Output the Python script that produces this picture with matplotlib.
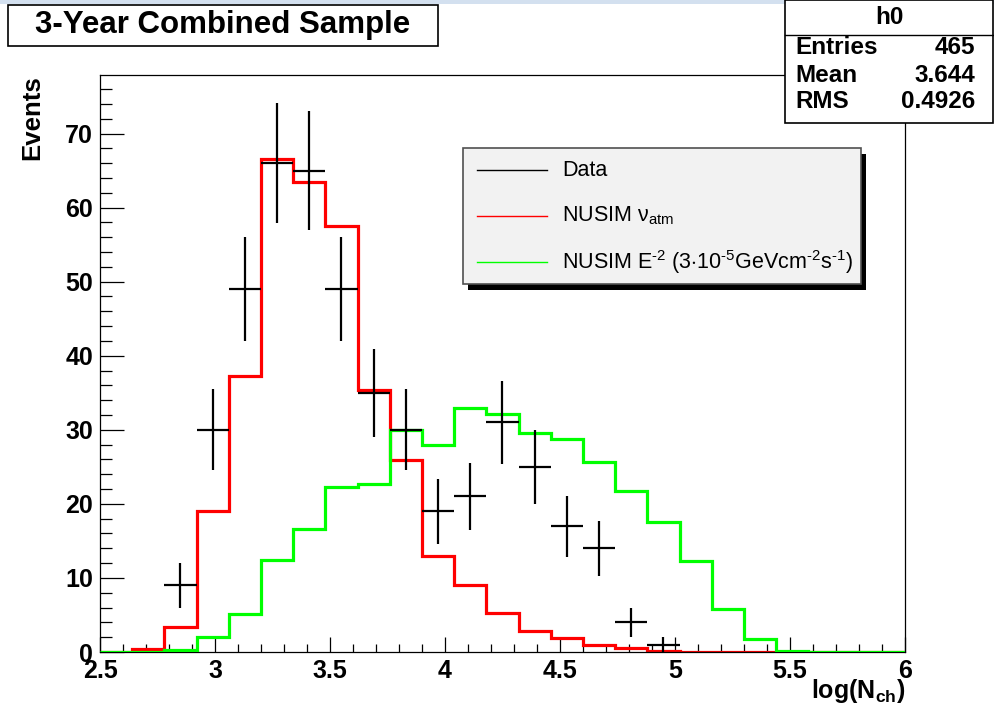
import matplotlib
matplotlib.use("Agg")
import matplotlib.pyplot as plt
import numpy as np
from matplotlib.patches import Rectangle

plt.rcParams['font.family'] = ['Liberation Sans', 'DejaVu Sans']
plt.rcParams['mathtext.fontset'] = 'custom'
plt.rcParams['mathtext.rm'] = 'Liberation Sans'
plt.rcParams['mathtext.it'] = 'Liberation Sans:italic'
plt.rcParams['mathtext.bf'] = 'Liberation Sans:bold'

# 25 bins in log(Nch), 2.5 .. 6.0
edges = [2.50, 2.64, 2.78, 2.92, 3.06, 3.20, 3.34, 3.48, 3.62, 3.76, 3.90,
         4.04, 4.18, 4.32, 4.46, 4.60, 4.74, 4.88, 5.02, 5.16, 5.30, 5.44,
         5.58, 5.72, 5.86, 6.00]

data_counts = [0, 0, 9, 30, 49, 66, 65, 49, 35, 30, 19, 21, 31, 25, 17, 14,
               4, 1, 0, 0, 0, 0, 0, 0, 0]

nusim_atm = [0.0, 0.4, 3.4, 19.1, 37.2, 66.6, 63.5, 57.5, 35.4, 25.9, 13.0,
             9.1, 5.3, 2.9, 1.9, 1.0, 0.5, 0.2, 0.05, 0.05, 0.05, 0.05, 0.0,
             0.0, 0.0]

nusim_e2 = [0.0, 0.0, 0.3, 2.0, 5.1, 12.4, 16.6, 22.3, 22.7, 30.0, 28.0,
            32.9, 32.1, 29.6, 28.8, 25.7, 21.7, 17.6, 12.3, 5.8, 1.7, 0.2,
            0.0, 0.0, 0.0]

stats_labels = ["Entries", "Mean", "RMS"]
stats_values = ["465", "3.644", "0.4926"]

edges = np.array(edges)
data_counts = np.array(data_counts)
centers = 0.5 * (edges[:-1] + edges[1:])
half_width = 0.5 * (edges[1:] - edges[:-1])
mask = data_counts > 0

fig = plt.figure(figsize=(9.95, 7.23), dpi=100)
W, H = 995.0, 723.0

# thin light band on top of the screenshot
fig.patches.append(Rectangle((0, 1 - 4 / H), 1, 4 / H, transform=fig.transFigure,
                             facecolor='#d3e0ef', edgecolor='none', zorder=0))

ax = fig.add_axes([100 / W, (H - 652) / H, 805 / W, 577 / H])

ax.stairs(nusim_atm, edges, color='#ff0000', linewidth=2.3, baseline=0, zorder=2)
ax.stairs(nusim_e2, edges, color='#00ff00', linewidth=2.3, baseline=0, zorder=3)
ax.errorbar(centers[mask], data_counts[mask], xerr=half_width[mask],
            yerr=np.sqrt(data_counts[mask]), fmt='none', ecolor='black',
            elinewidth=1.6, capsize=0, zorder=4)

ax.set_xlim(2.5, 6.0)
ax.set_ylim(0, 77.9)
ax.set_xticks([2.5, 3, 3.5, 4, 4.5, 5, 5.5, 6])
ax.set_xticklabels(["2.5", "3", "3.5", "4", "4.5", "5", "5.5", "6"])
ax.set_xticks(np.arange(2.6, 6.0, 0.1), minor=True)
ax.set_yticks([0, 10, 20, 30, 40, 50, 60, 70])
ax.set_yticks(np.arange(0, 78, 2), minor=True)

ax.xaxis.set_tick_params(which='major', direction='in', length=11, width=0.9, pad=5)
ax.xaxis.set_tick_params(which='minor', direction='in', length=5.5, width=0.9)
ax.yaxis.set_tick_params(which='major', direction='in', length=17, width=0.9, pad=5)
ax.yaxis.set_tick_params(which='minor', direction='in', length=8.5, width=0.9)
ax.tick_params(top=False, right=False, which='both')
for lab in ax.get_xticklabels() + ax.get_yticklabels():
    lab.set_fontsize(18)
    lab.set_fontweight('bold')
for sp in ax.spines.values():
    sp.set_linewidth(0.9)

# axis titles
fig.text(32 / W, 1 - 75 / H, "Events", rotation=90, ha='center', va='top',
         fontsize=18.5, fontweight='bold')
fig.text(905 / W, 1 - 691 / H, r"log(N$_{\mathbf{ch}}$)", ha='right', va='center',
         fontsize=18, fontweight='bold')

# title box
fig.patches.append(Rectangle((8 / W, 1 - 46 / H), 430 / W, 41 / H, transform=fig.transFigure,
                             facecolor='white', edgecolor='black', linewidth=1.2, zorder=5))
fig.text(223 / W, 1 - 25 / H, "3-Year Combined Sample", ha='center', va='center',
         fontsize=22.5, fontweight='bold', zorder=6)

# stats box
fig.patches.append(Rectangle((785 / W, 1 - 123 / H), 208 / W, 123 / H, transform=fig.transFigure,
                             facecolor='white', edgecolor='black', linewidth=1.2, zorder=5))
fig.lines.append(plt.Line2D([785 / W, 993 / W], [1 - 35 / H, 1 - 35 / H],
                            transform=fig.transFigure, color='black', linewidth=1.0, zorder=6))
fig.text(889 / W, 1 - 18 / H, "h0", ha='center', va='center', fontsize=17.5,
         fontweight='bold', zorder=6)
for i in range(len(stats_labels)):
    yy = 1 - (48 + 27 * i) / H
    fig.text(795 / W, yy, stats_labels[i], ha='left', va='center', fontsize=17.5,
             fontweight='bold', zorder=6)
    fig.text(975 / W, yy, stats_values[i], ha='right', va='center', fontsize=17.5,
             fontweight='bold', zorder=6)

# legend with shadow
fig.patches.append(Rectangle((468 / W, 1 - 290 / H), 398 / W, 136 / H, transform=fig.transFigure,
                             facecolor='black', edgecolor='none', zorder=5))
fig.patches.append(Rectangle((463 / W, 1 - 284 / H), 398 / W, 136 / H, transform=fig.transFigure,
                             facecolor='#f2f2f2', edgecolor='#505050', linewidth=1.2, zorder=6))
leg_text = ["Data", r"NUSIM ν$_{\rm atm}$",
            r"NUSIM E$^{\text{-2}}$ (3$\cdot$10$^{\text{-5}}$GeVcm$^{\text{-2}}$s$^{\text{-1}}$)"]
leg_colors = ['black', '#ff0000', '#00ff00']
leg_y = [170, 216, 262]
for i in range(3):
    yy = 1 - leg_y[i] / H
    fig.lines.append(plt.Line2D([477 / W, 547 / W], [yy, yy], transform=fig.transFigure,
                                color=leg_colors[i], linewidth=1.0, zorder=7))
    fig.text(562 / W, yy, leg_text[i], ha='left', va='center', fontsize=15.5, zorder=7)

fig.savefig("out.png", dpi=100)
